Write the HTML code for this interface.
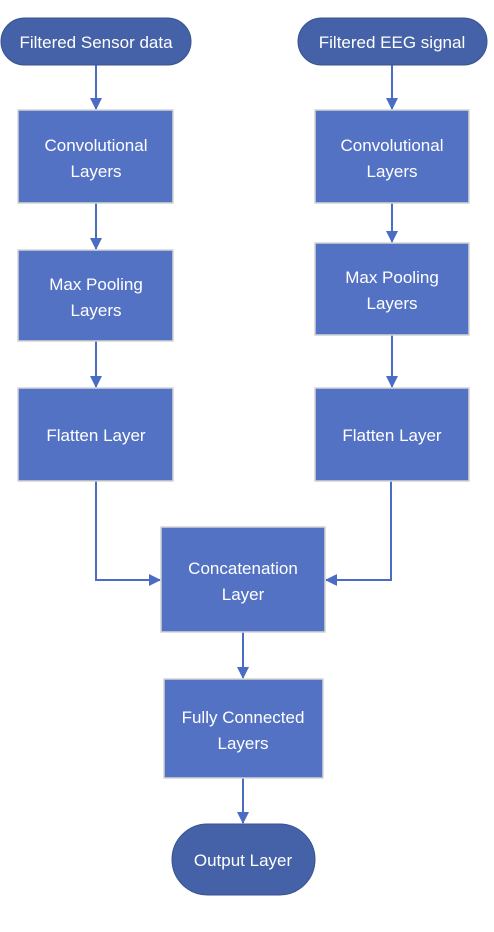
<!DOCTYPE html>
<html><head><style>
body{margin:0;background:#fff;}
svg text{font-family:"Liberation Sans",sans-serif;font-size:17px;fill:#fff;text-anchor:middle;}
</style></head><body>
<svg width="494" height="927" xmlns="http://www.w3.org/2000/svg">
<defs><marker id="a" markerWidth="12" markerHeight="12" refX="11" refY="6" orient="auto" markerUnits="userSpaceOnUse"><path d="M0,0 L12,6 L0,12 z" fill="#4A6CC4"/></marker></defs>
<g stroke="#4A6CC4" stroke-width="2" fill="none" marker-end="url(#a)">
<line x1="96" y1="65" x2="96" y2="109"/>
<line x1="96" y1="203" x2="96" y2="249"/>
<line x1="96" y1="341" x2="96" y2="387"/>
<line x1="392" y1="65" x2="392" y2="109"/>
<line x1="392" y1="203" x2="392" y2="242"/>
<line x1="392" y1="335" x2="392" y2="387"/>
<polyline points="96,481 96,580 160,580"/>
<polyline points="391,481 391,580 326,580"/>
<line x1="243" y1="632" x2="243" y2="678"/>
<line x1="243" y1="778" x2="243" y2="823"/>
</g>
<g fill="#5472C4" stroke="#d4d4d4" stroke-width="1.5">
<rect x="18" y="110" width="155" height="93"/>
<rect x="18" y="250" width="155" height="91"/>
<rect x="18" y="388" width="155" height="93"/>
<rect x="315" y="110" width="154" height="93"/>
<rect x="315" y="243" width="154" height="92"/>
<rect x="315" y="388" width="154" height="93"/>
<rect x="161" y="527" width="164" height="105"/>
<rect x="164" y="679" width="159" height="99"/>
</g>
<g fill="#4562A8" stroke="#3a5290" stroke-width="1">
<rect x="1" y="18" width="190" height="47" rx="23.5"/>
<rect x="298" y="18" width="189" height="47" rx="23.5"/>
<rect x="172" y="824" width="143" height="71" rx="35.5"/>
</g>
<text x="96" y="48">Filtered Sensor data</text>
<text x="392" y="48">Filtered EEG signal</text>
<text x="96" y="151">Convolutional</text><text x="96" y="177">Layers</text>
<text x="96" y="290">Max Pooling</text><text x="96" y="316">Layers</text>
<text x="96" y="441">Flatten Layer</text>
<text x="392" y="151">Convolutional</text><text x="392" y="177">Layers</text>
<text x="392" y="283">Max Pooling</text><text x="392" y="309">Layers</text>
<text x="392" y="441">Flatten Layer</text>
<text x="243" y="574">Concatenation</text><text x="243" y="600">Layer</text>
<text x="243" y="723">Fully Connected</text><text x="243" y="749">Layers</text>
<text x="243" y="866">Output Layer</text>
</svg>
</body></html>
